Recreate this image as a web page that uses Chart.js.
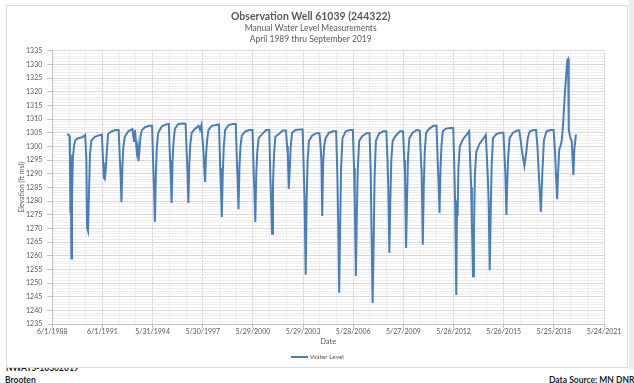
<!DOCTYPE html>
<html>
<head>
<meta charset="utf-8">
<script src="https://cdn.jsdelivr.net/npm/chart.js@4"></script>
<style>
html,body{margin:0;padding:0;background:#fff;}
body{width:634px;height:383px;position:relative;overflow:hidden;font-family:Lato,"Open Sans",sans-serif;}
#frame{position:absolute;left:6px;top:5px;width:620px;height:361px;border:1px solid #d9d9d9;background:#fff;z-index:2;}
#strip{position:absolute;left:629px;top:0;width:5px;height:369px;background:#ececec;z-index:1;}
canvas{display:block;}
#legline{position:absolute;left:284px;top:350px;width:17px;height:2px;background:#4a7ebb;}
#legtext{position:absolute;left:303px;top:346px;font-size:6.5px;line-height:10px;color:#595959;}
.foot{position:absolute;font-weight:bold;font-size:8.5px;line-height:10px;color:#1e1e1e;white-space:nowrap;z-index:1;}
</style>
</head>
<body>
<div id="strip"></div>
<div class="foot" style="left:6px;top:363px;">NWATS-10302019</div>
<div class="foot" style="left:5px;top:375px;">Brooten</div>
<div class="foot" style="left:549px;top:375px;">Data Source: MN DNR</div>
<div id="frame">
  <canvas id="c" width="620" height="361"></canvas>
  <div id="legline"></div>
  <div id="legtext">Water Level</div>
</div>
<script>
const titleText = 'Observation Well 61039 (244322)';
const subtitleText = ['Manual Water Level Measurements', 'April 1989 thru September 2019'];
const xAxisTitle = 'Date';
const yAxisTitle = 'Elevation (ft msl)';
const seriesName = 'Water Level';

// Axis ranges (Excel date serials; major step 1095 days)
const xMinSerial = 32295;   // 6/1/1988
const xMajorStep = 1095;
const xMajorCount = 11;
const yMin = 1235, yMax = 1335, yMajor = 5;

const dates = [
'1989-04-20','1989-05-20','1989-06-10','1989-06-20','1989-07-01','1989-07-10','1989-07-22','1989-08-05','1989-08-25','1989-09-20','1989-10-20','1989-12-15','1990-03-15',
'1990-05-20','1990-06-15','1990-07-01','1990-07-20','1990-08-10','1990-09-01','1990-10-01','1990-12-15','1991-03-15',
'1991-05-20','1991-06-15','1991-07-01','1991-07-20','1991-08-10','1991-09-01','1991-10-01','1991-12-15','1992-03-15',
'1992-05-20','1992-06-15','1992-07-01','1992-07-20','1992-08-10','1992-09-01','1992-10-01','1992-12-15','1993-03-15','1993-04-20','1993-05-10',
'1993-06-20','1993-07-10','1993-07-25','1993-08-15','1993-09-10','1993-10-10','1993-12-15','1994-03-15',
'1994-05-20','1994-06-15','1994-07-01','1994-07-20','1994-08-10','1994-09-01','1994-10-01','1994-12-15','1995-03-15',
'1995-05-20','1995-06-15','1995-07-01','1995-07-20','1995-08-10','1995-09-01','1995-10-01','1995-12-15','1996-03-15',
'1996-05-20','1996-06-15','1996-07-01','1996-07-20','1996-08-10','1996-09-01','1996-10-01','1996-12-15','1997-03-01','1997-04-01','1997-05-01',
'1997-06-15','1997-07-01','1997-07-20','1997-08-10','1997-09-01','1997-10-01','1997-12-15','1998-03-15',
'1998-05-20','1998-06-15','1998-07-01','1998-07-20','1998-08-10','1998-09-01','1998-10-01','1998-12-15','1999-03-15',
'1999-05-20','1999-06-15','1999-07-01','1999-07-20','1999-08-10','1999-09-01','1999-10-01','1999-12-15','2000-03-15',
'2000-05-20','2000-06-15','2000-07-01','2000-07-20','2000-08-10','2000-09-01','2000-10-01','2000-12-15','2001-03-15',
'2001-05-20','2001-06-15','2001-07-01','2001-07-20','2001-08-10','2001-09-01','2001-10-01','2001-12-15','2002-03-15',
'2002-05-20','2002-06-15','2002-07-01','2002-07-20','2002-08-10','2002-09-01','2002-10-01','2002-12-15','2003-03-15',
'2003-05-20','2003-06-15','2003-07-01','2003-07-25','2003-08-15','2003-09-05','2003-10-05','2003-12-15','2004-03-15',
'2004-05-20','2004-06-15','2004-07-01','2004-07-20','2004-08-10','2004-09-01','2004-10-01','2004-12-15','2005-03-15',
'2005-05-20','2005-06-15','2005-07-01','2005-07-25','2005-08-15','2005-09-05','2005-10-05','2005-12-15','2006-03-15',
'2006-05-20','2006-06-15','2006-07-01','2006-07-25','2006-08-15','2006-09-05','2006-10-05','2006-12-15','2007-03-15',
'2007-05-20','2007-06-15','2007-07-01','2007-07-25','2007-08-15','2007-09-05','2007-10-05','2007-12-15','2008-03-15',
'2008-05-20','2008-06-15','2008-07-01','2008-07-25','2008-08-15','2008-09-05','2008-10-05','2008-12-15','2009-03-15',
'2009-05-20','2009-06-15','2009-07-01','2009-07-25','2009-08-15','2009-09-05','2009-10-05','2009-12-15','2010-03-15',
'2010-05-20','2010-06-15','2010-07-01','2010-07-25','2010-08-15','2010-09-05','2010-10-05','2010-12-15','2011-03-15',
'2011-05-20','2011-06-15','2011-07-01','2011-07-25','2011-08-15','2011-09-05','2011-10-05','2011-12-15','2012-03-15',
'2012-05-20','2012-06-15','2012-07-01','2012-07-25','2012-08-10','2012-08-25','2012-09-10','2012-10-10','2012-12-15','2013-03-15','2013-05-01',
'2013-06-15','2013-07-01','2013-07-25','2013-08-15','2013-09-05','2013-10-05','2013-12-15','2014-03-15','2014-05-01',
'2014-06-15','2014-07-01','2014-07-25','2014-08-15','2014-09-05','2014-10-05','2014-12-15','2015-03-15',
'2015-05-20','2015-06-15','2015-07-01','2015-07-25','2015-08-10','2015-09-01','2015-10-01','2015-12-15','2016-03-15',
'2016-05-01','2016-06-01','2016-07-01','2016-08-20','2016-10-01','2016-11-01','2016-12-15','2017-03-15',
'2017-05-01','2017-06-01','2017-07-01','2017-08-15','2017-09-15','2017-10-20','2017-12-15','2018-03-15',
'2018-05-20','2018-06-20','2018-07-15','2018-08-05','2018-08-25','2018-09-20','2018-10-15','2018-11-15','2018-12-15',
'2019-01-25','2019-03-15','2019-04-01','2019-04-15','2019-05-15','2019-06-20','2019-07-25','2019-08-15','2019-09-20'
];

const levels = [
1304.5,1304.2,1303.8,1297,1276,1297,1259,1281,1296,1300.5,1302.3,1303,1303.3,
1304.2,1295,1270,1269,1282,1297,1302,1303.5,1304,
1304.3,1294,1288.5,1288,1291,1297,1304.5,1305.5,1306,
1306,1295,1290,1279.6,1293,1300,1303.5,1305.5,1306.3,1302,1306,
1298,1300,1294.6,1298,1304,1306,1307,1307.5,
1307.5,1292,1285,1272.3,1290,1300,1305,1307.3,1308,
1308.2,1295,1290,1279.3,1295,1302,1306.5,1308.2,1308.4,
1308.3,1297,1290,1279.3,1294,1301,1305,1306.5,1307.5,1306,1307.8,
1298,1292,1287,1297,1302,1306,1307.5,1307.8,
1308,1292,1285,1274.2,1290,1300,1306,1307.8,1308.2,
1308.2,1294,1288,1277,1293,1300,1304,1305.5,1306,
1306,1290,1283,1272.3,1290,1298,1303,1304.5,1306,
1306,1288,1280,1268,1286,1297,1303.5,1304.5,1305.8,
1305.8,1300,1297,1284.4,1291,1300,1305,1306,1306.2,
1306.2,1290,1280,1253,1280,1295,1302,1304,1304.8,
1304.8,1300,1295,1274.5,1294,1300,1303,1305,1305.5,
1305.5,1290,1275,1246.4,1270,1292,1303,1305.5,1306,
1306,1292,1280,1252.6,1275,1292,1302,1303.8,1304.8,
1304.8,1290,1270,1242.7,1262,1288,1302,1304.8,1305.5,
1305.5,1295,1285,1261,1280,1295,1302,1304,1305.5,
1305.5,1295,1290,1262.8,1281,1296,1303,1305,1306,
1305.8,1295,1290,1264,1285,1298,1305,1306.5,1307.5,
1307.5,1295,1288,1275.6,1292,1300,1305.5,1306.5,1306.7,
1306.7,1290,1278,1245.6,1278,1277,1292,1300,1302.5,1304.5,1305.5,
1285,1272,1252.5,1270,1290,1298,1301,1303,1304.2,
1288,1280,1254.7,1275,1293,1303,1304.5,1305,
1305,1296,1290,1274.9,1286,1296,1303,1305,1305.8,
1305.8,1302,1298,1292.8,1298,1303,1305.5,1306,
1306,1300,1290,1276,1290,1302.3,1305.5,1306,
1306,1298,1288,1280.7,1290,1299,1300,1302.3,1308.5,
1320.6,1331.6,1332,1306,1303.5,1301.7,1289.5,1298.8,1304.4
];

function toSerial(s) {
  const [y, m, d] = s.split('-').map(Number);
  return (Date.UTC(y, m - 1, d) - Date.UTC(1899, 11, 30)) / 86400000;
}
function serialToLabel(v) {
  const dt = new Date(Date.UTC(1899, 11, 30) + Math.round(v) * 86400000);
  return (dt.getUTCMonth() + 1) + '/' + dt.getUTCDate() + '/' + dt.getUTCFullYear();
}

const points = dates.map((d, i) => ({ x: toSerial(d), y: levels[i] }));
const xMax = xMinSerial + xMajorCount * xMajorStep;
const FONT = 'Lato';

new Chart(document.getElementById('c'), {
  type: 'line',
  data: {
    datasets: [{
      label: seriesName,
      data: points,
      borderColor: '#4a7ebb',
      backgroundColor: '#4a7ebb',
      borderWidth: 2,
      pointRadius: 0,
      tension: 0,
      fill: false
    }]
  },
  options: {
    responsive: false,
    animation: false,
    devicePixelRatio: 1,
    layout: { padding: { left: 10.4, right: 23, top: 0, bottom: 20.5 } },
    plugins: {
      legend: { display: false },
      tooltip: { enabled: false },
      title: {
        display: true, text: titleText, color: '#595959',
        font: { family: FONT, size: 10.5, weight: 'bold', lineHeight: 1.2 },
        padding: { top: 4.5, bottom: 0 }
      },
      subtitle: {
        display: true, text: subtitleText, color: '#595959',
        font: { family: FONT, size: 8.5, lineHeight: 1.3 },
        padding: { top: 0, bottom: 5.5 }
      }
    },
    scales: {
      x: {
        type: 'linear',
        min: xMinSerial,
        max: xMax,
        afterBuildTicks: (axis) => {
          const t = [];
          for (let i = 0; i <= xMajorCount * 3; i++) {
            t.push({ value: xMinSerial + Math.floor(i / 3) * xMajorStep + (i % 3) * 365 });
          }
          axis.ticks = t;
        },
        afterFit: (s) => { s.height = 22.5; },
        ticks: {
          autoSkip: false, maxRotation: 0, minRotation: 0, padding: 0,
          color: '#595959', font: { family: FONT, size: 7 },
          callback: (v, i) => (i % 3 === 0 ? serialToLabel(v) : '')
        },
        grid: {
          color: (ctx) => (ctx.index % 3 === 0 ? '#d9d9d9' : '#eeeeee'),
          tickColor: (ctx) => (ctx.index % 3 === 0 ? '#bfbfbf' : 'rgba(0,0,0,0)'),
          tickLength: 4, lineWidth: 1
        },
        border: { color: '#bfbfbf', width: 1 },
        title: {
          display: true, text: xAxisTitle, color: '#595959',
          font: { family: FONT, size: 7.5, lineHeight: 1.2 },
          padding: { top: 0, bottom: 0 }
        }
      },
      y: {
        type: 'linear',
        min: yMin,
        max: yMax,
        afterBuildTicks: (axis) => {
          const t = [];
          for (let v = yMin; v <= yMax; v++) t.push({ value: v });
          axis.ticks = t;
        },
        afterFit: (s) => { s.width = 34.9; },
        ticks: {
          autoSkip: false, padding: 5,
          color: '#595959', font: { family: FONT, size: 7 },
          callback: (v) => (Math.round(v) % yMajor === 0 ? String(v) : '')
        },
        grid: {
          color: (ctx) => (ctx.tick && Math.round(ctx.tick.value) % yMajor === 0 ? '#d9d9d9' : '#eeeeee'),
          tickColor: (ctx) => (ctx.tick && Math.round(ctx.tick.value) % yMajor === 0 ? '#bfbfbf' : 'rgba(0,0,0,0)'),
          tickLength: 5, lineWidth: 1
        },
        border: { color: '#bfbfbf', width: 1 },
        title: {
          display: true, text: yAxisTitle, color: '#595959',
          font: { family: FONT, size: 7, lineHeight: 1.2 },
          padding: { top: 0, bottom: 0 }
        }
      }
    }
  }
});
</script>
</body>
</html>
